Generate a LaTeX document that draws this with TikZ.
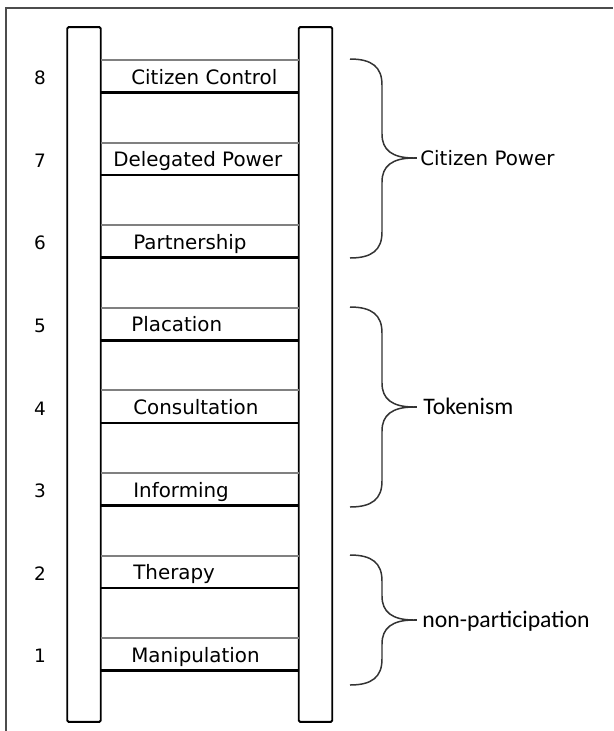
\documentclass[tikz,border=0pt]{standalone}
\usepackage{fontspec}
\usetikzlibrary{positioning}
\newfontfamily\ladderfont{DejaVu Sans}
\newfontfamily\groupfont{Carlito}

\begin{document}
\begin{tikzpicture}[x=0.02cm,y=-0.02cm,
  rail/.style={draw=black, line width=1.1pt, rounded corners=0.8pt,
    minimum width=0.67cm, minimum height=13.9cm, inner sep=0pt, outer sep=0pt},
  rungtop/.style={draw=gray, line width=1.1pt},
  rungbot/.style={draw=black, line width=1.4pt},
  rungtext/.style={font=\ladderfont\fontsize{11.3}{13}\selectfont, anchor=base west, inner sep=0pt},
  rungnum/.style={font=\ladderfont\fontsize{10.5}{12}\selectfont, inner sep=0pt},
  bracket/.style={draw=black!80, line width=0.85pt},
  grouptext/.style={inner sep=0pt, text height=8.4pt, text depth=0pt}]
\useasboundingbox (0,0) rectangle (613,731);

% Frame
\draw[black!70, line width=0.85pt] (6,731) -- (6,8) -- (613,8);

% Rails
\node[rail] (lrail) at (84,374.5) {};
\node[rail] (rrail) at (315.5,374.5) {};

% Rungs, labels and numbers
\foreach \n/\txt/\lx in {8/Citizen Control/131, 7/Delegated Power/113,
    6/Partnership/133, 5/Placation/131, 4/Consultation/133,
    3/Informing/133, 2/Therapy/133, 1/Manipulation/131}{
  \pgfmathsetmacro\g{60+(8-\n)*82.6}
  \draw[rungtop] (lrail.east |- 0,\g) -- (rrail.west |- 0,\g);
  \draw[rungbot] (lrail.east |- 0,\g+32.5) -- (rrail.west |- 0,\g+32.5);
  \node[rungtext] (rung\n) at (\lx,\g+24) {\txt};
  \node[rungnum] (num\n) at (40,\g+18) {\n};
}

% Braces
\foreach \t/\m/\b/\nm in {59/158/258/cp, 307/407/507/tk, 555/620/685/np}{
  \coordinate (tip\nm) at (414,\m);
  \draw[bracket] (350,\t) .. controls (372,\t) and (382,\t+8) .. (382,\t+26)
    -- (382,\m-24) .. controls (382,\m-8) and (392,\m) .. (tip\nm)
    .. controls (392,\m) and (382,\m+8) .. (382,\m+24)
    -- (382,\b-26) .. controls (382,\b-8) and (372,\b) .. (350,\b);
  \draw[bracket] (tip\nm) -- ++(3,0);
}

% Group labels
\node[grouptext, font=\ladderfont\fontsize{11.3}{13}\selectfont, right=0.12cm of tipcp] (cp) {Citizen Power};
\node[grouptext, font=\groupfont\fontsize{13.5}{15}\selectfont, right=0.18cm of tiptk] (tk) {Tokenism};
\node[grouptext, font=\groupfont\fontsize{13.5}{15}\selectfont, right=0.16cm of tipnp] (np) {non-participation};
\end{tikzpicture}
\end{document}
